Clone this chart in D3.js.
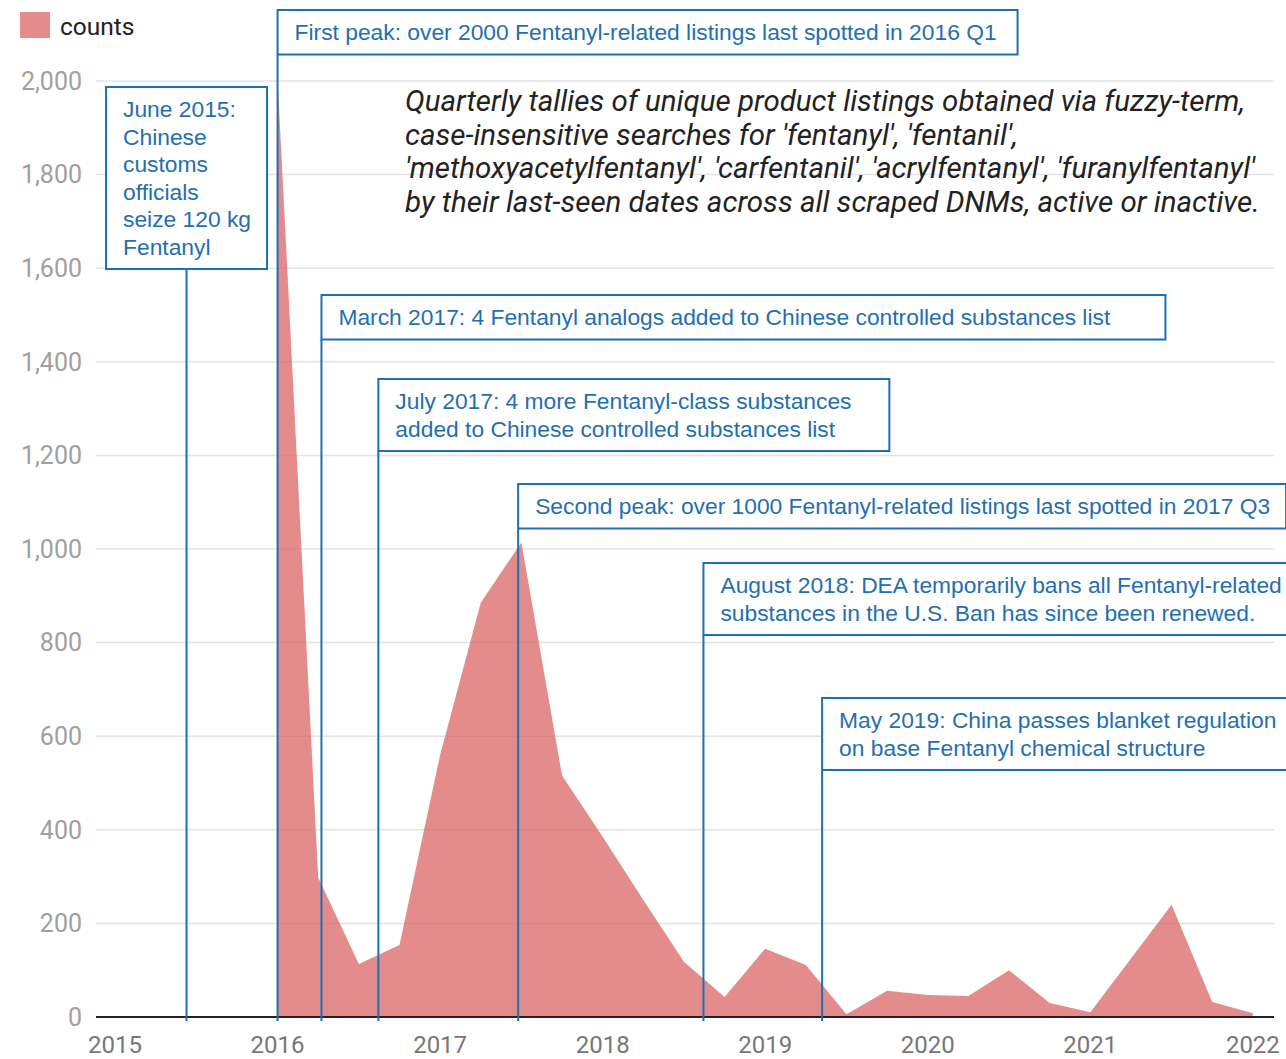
<!DOCTYPE html>
<html>
<head>
<meta charset="utf-8">
<script src="https://cdn.jsdelivr.net/npm/d3@7"></script>
<style>
  body { margin: 0; background: #fff; }
  svg { display: block; }
</style>
</head>
<body>
<div id="chart"></div>
<script>
// quarterly counts (last-seen quarter, decimal year)
var quarters = [2016.0, 2016.25, 2016.5, 2016.75,
  2017.0, 2017.25, 2017.5, 2017.75,
  2018.0, 2018.25, 2018.5, 2018.75,
  2019.0, 2019.25, 2019.5, 2019.75,
  2020.0, 2020.25, 2020.5, 2020.75,
  2021.0, 2021.25, 2021.5, 2021.75, 2022.0]
var counts = [2005, 298, 113, 154,
  560, 885, 1014, 516,
  385, 250, 118, 43,
  146, 111, 6, 56,
  47, 45, 100, 30,
  10, 125, 240, 32, 8]

var yTicks = [0, 200, 400, 600, 800, 1000, 1200, 1400, 1600, 1800, 2000]
var xTicks = [2015, 2016, 2017, 2018, 2019, 2020, 2021, 2022]

// event annotations: date on the x axis and the text lines
var eventDates = [2015.44, 2016.0, 2016.27, 2016.62, 2017.48, 2018.62, 2019.35]
var eventLabels = [
  ["June 2015:", "Chinese", "customs", "officials", "seize 120 kg", "Fentanyl"],
  ["First peak: over 2000 Fentanyl-related listings last spotted in 2016 Q1"],
  ["March 2017: 4 Fentanyl analogs added to Chinese controlled substances list"],
  ["July 2017: 4 more Fentanyl-class substances", "added to Chinese controlled substances list"],
  ["Second peak: over 1000 Fentanyl-related listings last spotted in 2017 Q3"],
  ["August 2018: DEA temporarily bans all Fentanyl-related", "substances in the U.S. Ban has since been renewed."],
  ["May 2019: China passes blanket regulation", "on base Fentanyl chemical structure"]
]
// layout only: box top and width in px, and whether the box is centred on its line
var eventBoxTop = [87, 10, 295, 379, 484, 563, 698]
var eventBoxWidth = [161, 740, 844, 511, 768, 600, 480]
var eventCentered = [true, false, false, false, false, false, false]

var note = [
  "Quarterly tallies of unique product listings obtained via fuzzy-term,",
  "case-insensitive searches for 'fentanyl', 'fentanil',",
  "'methoxyacetylfentanyl', 'carfentanil', 'acrylfentanyl', 'furanylfentanyl'",
  "by their last-seen dates across all scraped DNMs, active or inactive."
]

const W = 1286, H = 1059
const blue = "#1f6fb2"

const svg = d3.select("#chart").append("svg")
  .attr("width", W)
  .attr("height", H)

const x = d3.scaleLinear()
  .domain([2014.883, 2022.13])
  .range([96, 1274])

const y = d3.scaleLinear()
  .domain([0, 2000])
  .range([1017, 81])

// gridlines
svg.append("g").selectAll("line")
  .data(yTicks.filter(d => d > 0))
  .enter().append("line")
  .attr("x1", x.range()[0])
  .attr("x2", x.range()[1])
  .attr("y1", d => y(d))
  .attr("y2", d => y(d))
  .style("stroke", "#e3e3e3")
  .style("stroke-width", 1.5)

// y labels
svg.append("g").selectAll("text")
  .data(yTicks)
  .enter().append("text")
  .attr("x", 82)
  .attr("y", d => y(d))
  .attr("dy", "0.35em")
  .attr("text-anchor", "end")
  .style("font-family", "Roboto, sans-serif")
  .style("font-size", "25px")
  .style("fill", "#a0a0a0")
  .text(d => d3.format(",")(d))

// x labels
svg.append("g").selectAll("text")
  .data(xTicks)
  .enter().append("text")
  .attr("x", d => x(d))
  .attr("y", 1053)
  .attr("text-anchor", "middle")
  .style("font-family", "Roboto, sans-serif")
  .style("font-size", "24px")
  .style("fill", "#777")
  .text(d => d)

// area
var series = quarters.map(function(q, i) { return { q: q, v: counts[i] } })
var area = d3.area()
  .x(d => x(d.q))
  .y0(y(0))
  .y1(d => y(d.v))

svg.append("path")
  .datum(series)
  .attr("d", area)
  .style("fill", "rgb(218,100,98)")
  .style("fill-opacity", 0.74)

// baseline
svg.append("line")
  .attr("x1", x.range()[0])
  .attr("x2", x.range()[1])
  .attr("y1", y(0))
  .attr("y2", y(0))
  .style("stroke", "#222")
  .style("stroke-width", 2)

// legend
svg.append("rect")
  .attr("x", 20).attr("y", 12)
  .attr("width", 30).attr("height", 26)
  .style("fill", "rgb(218,100,98)")
  .style("fill-opacity", 0.74)
svg.append("text")
  .attr("x", 60).attr("y", 35)
  .style("font-family", "Roboto, sans-serif")
  .style("font-size", "24.5px")
  .style("fill", "#222")
  .text("counts")

// description
svg.append("g").selectAll("text")
  .data(note)
  .enter().append("text")
  .attr("x", 405)
  .attr("y", (d, i) => 111 + i * 33.5)
  .style("font-family", "Roboto, sans-serif")
  .style("font-style", "italic")
  .style("font-size", "29.5px")
  .style("fill", "#222")
  .text(d => d)

// annotations
var events = eventDates.map(function(d, i) {
  return { date: d, lines: eventLabels[i], top: eventBoxTop[i],
    width: eventBoxWidth[i], centered: eventCentered[i] }
})

var ev = svg.append("g").selectAll("g")
  .data(events)
  .enter().append("g")

ev.append("line")
  .attr("x1", d => x(d.date))
  .attr("x2", d => x(d.date))
  .attr("y1", d => d.top + d.lines.length * 27.5 + 17)
  .attr("y2", y(0) + 4)
  .style("stroke", blue)
  .style("stroke-width", 2)

function boxLeft(d) {
  return d.centered ? x(d.date) - d.width / 2 : x(d.date)
}

ev.append("rect")
  .attr("x", boxLeft)
  .attr("y", d => d.top)
  .attr("width", d => d.width)
  .attr("height", d => d.lines.length * 27.5 + 17)
  .style("fill", "#fff")
  .style("stroke", blue)
  .style("stroke-width", 2)

var labels = ev.append("text")
  .style("font-family", "'Liberation Sans', Arial, sans-serif")
  .style("font-size", "22.8px")
  .style("fill", blue)

labels.selectAll("tspan")
  .data(d => d.lines.map(l => ({ line: l, top: d.top, left: boxLeft(d) })))
  .enter().append("tspan")
  .attr("x", d => d.left + 17)
  .attr("y", (d, i) => d.top + 30 + i * 27.5)
  .text(d => d.line)
</script>
</body>
</html>
